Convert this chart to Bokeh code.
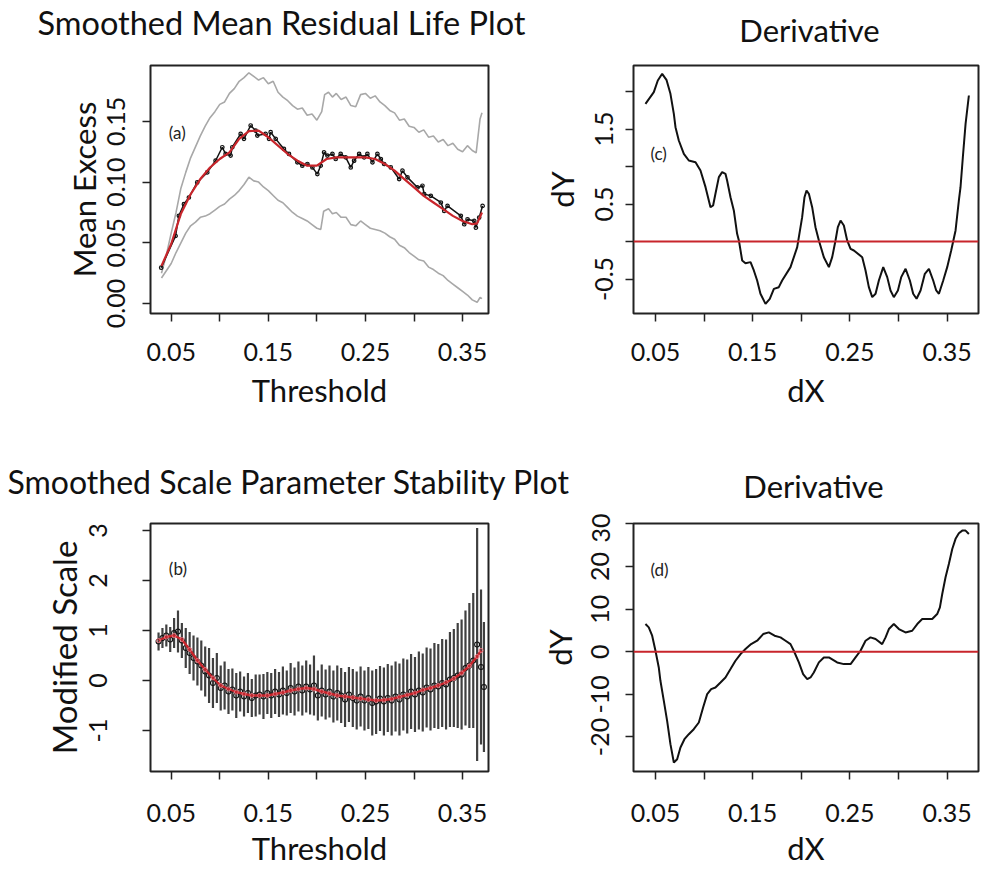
import numpy as np
from bokeh.plotting import figure
from bokeh.models import FixedTicker, PrintfTickFormatter, Label, Span, Range1d
from bokeh.layouts import column, row
from bokeh.embed import file_html
from bokeh.resources import INLINE

FONT = "Lato"
RED = "#c8252b"

# ---------------- titles ----------------
title_a = "Smoothed Mean Residual Life Plot"
title_b = "Smoothed Scale Parameter Stability Plot"
title_cd = "Derivative"

# ---------------- Panel (a): smoothed mean residual life ----------------
mrl_x = [0.0397, 0.0545, 0.0579, 0.0631, 0.0682, 0.0768, 0.0871, 0.0957, 0.1026, 0.1060,
         0.1112, 0.1129, 0.1215, 0.1249, 0.1318, 0.1369, 0.1387, 0.1472, 0.1507, 0.1524,
         0.1576, 0.1661, 0.1713, 0.1799, 0.1850, 0.1902, 0.1954, 0.2005, 0.2039, 0.2074,
         0.2108, 0.2160, 0.2194, 0.2245, 0.2297, 0.2349, 0.2383, 0.2435, 0.2486, 0.2520,
         0.2572, 0.2623, 0.2658, 0.2692, 0.2761, 0.2847, 0.2881, 0.2933, 0.3036, 0.3087,
         0.3105, 0.3173, 0.3276, 0.3311, 0.3345, 0.3482, 0.3517, 0.3551, 0.3620, 0.3637,
         0.3671, 0.3706]
mrl_y = [0.0295, 0.0557, 0.0722, 0.0818, 0.0873, 0.0997, 0.1080, 0.1176, 0.1287, 0.1232,
         0.1218, 0.1287, 0.1397, 0.1356, 0.1466, 0.1424, 0.1383, 0.1397, 0.1356, 0.1411,
         0.1356, 0.1273, 0.1232, 0.1163, 0.1135, 0.1149, 0.1121, 0.1066, 0.1135, 0.1245,
         0.1218, 0.1232, 0.1190, 0.1232, 0.1204, 0.1121, 0.1176, 0.1232, 0.1204, 0.1232,
         0.1163, 0.1232, 0.1190, 0.1149, 0.1121, 0.1025, 0.1094, 0.1039, 0.0956, 0.0970,
         0.0901, 0.0887, 0.0832, 0.0763, 0.0804, 0.0722, 0.0653, 0.0694, 0.0680, 0.0625,
         0.0708, 0.0804]

mrl_smooth_x = [0.040, 0.050, 0.060, 0.070, 0.080, 0.090, 0.100, 0.110, 0.120, 0.130,
                0.140, 0.150, 0.160, 0.170, 0.180, 0.190, 0.200, 0.210, 0.220, 0.230,
                0.240, 0.250, 0.260, 0.270, 0.280, 0.290, 0.300, 0.310, 0.320, 0.330,
                0.340, 0.350, 0.360, 0.365, 0.370]
mrl_smooth_y = [0.031, 0.049, 0.074, 0.090, 0.1025, 0.112, 0.119, 0.1245, 0.1355, 0.142,
                0.1424, 0.1369, 0.130, 0.1231, 0.1176, 0.1135, 0.1135, 0.119, 0.1204, 0.1204,
                0.1204, 0.1204, 0.119, 0.1149, 0.1094, 0.1025, 0.0956, 0.0887, 0.0832, 0.0777,
                0.0722, 0.068, 0.0653, 0.066, 0.075]

ci_up_x = [0.040, 0.045, 0.050, 0.055, 0.060, 0.065, 0.070, 0.075, 0.080, 0.085,
           0.090, 0.095, 0.100, 0.105, 0.110, 0.115, 0.120, 0.125, 0.130, 0.135,
           0.140, 0.145, 0.150, 0.155, 0.160, 0.165, 0.170, 0.175, 0.180, 0.185,
           0.190, 0.195, 0.200, 0.205, 0.208, 0.212, 0.216, 0.220, 0.225, 0.230,
           0.235, 0.240, 0.245, 0.250, 0.255, 0.260, 0.265, 0.270, 0.275, 0.280,
           0.285, 0.290, 0.295, 0.300, 0.305, 0.310, 0.315, 0.320, 0.325, 0.330,
           0.335, 0.340, 0.345, 0.350, 0.355, 0.360, 0.364, 0.366, 0.368, 0.370]
ci_up_y = [0.025, 0.040, 0.058, 0.075, 0.095, 0.108, 0.120, 0.129, 0.138, 0.146,
           0.153, 0.158, 0.164, 0.166, 0.173, 0.177, 0.183, 0.186, 0.190, 0.187,
           0.184, 0.186, 0.181, 0.183, 0.174, 0.170, 0.167, 0.163, 0.160, 0.161,
           0.155, 0.156, 0.151, 0.158, 0.172, 0.174, 0.170, 0.173, 0.168, 0.170,
           0.163, 0.162, 0.172, 0.173, 0.169, 0.171, 0.166, 0.163, 0.159, 0.157,
           0.151, 0.152, 0.146, 0.145, 0.141, 0.143, 0.137, 0.138, 0.133, 0.135,
           0.130, 0.132, 0.127, 0.125, 0.130, 0.126, 0.124, 0.138, 0.152, 0.157]

ci_lo_x = [0.040, 0.045, 0.050, 0.055, 0.060, 0.065, 0.070, 0.075, 0.080, 0.085,
           0.090, 0.095, 0.100, 0.105, 0.110, 0.115, 0.120, 0.125, 0.130, 0.135,
           0.140, 0.145, 0.150, 0.155, 0.160, 0.165, 0.170, 0.175, 0.180, 0.185,
           0.190, 0.195, 0.200, 0.204, 0.207, 0.212, 0.216, 0.220, 0.225, 0.230,
           0.235, 0.240, 0.245, 0.250, 0.255, 0.260, 0.265, 0.270, 0.275, 0.280,
           0.285, 0.290, 0.295, 0.300, 0.305, 0.310, 0.315, 0.320, 0.325, 0.330,
           0.335, 0.340, 0.345, 0.350, 0.355, 0.360, 0.365, 0.368, 0.370]
ci_lo_y = [0.021, 0.027, 0.033, 0.042, 0.050, 0.058, 0.064, 0.067, 0.071, 0.072,
           0.074, 0.077, 0.080, 0.082, 0.086, 0.089, 0.093, 0.098, 0.104, 0.101,
           0.100, 0.096, 0.093, 0.089, 0.085, 0.083, 0.079, 0.075, 0.072, 0.070,
           0.068, 0.065, 0.062, 0.061, 0.076, 0.078, 0.074, 0.075, 0.071, 0.071,
           0.065, 0.064, 0.068, 0.065, 0.062, 0.061, 0.060, 0.058, 0.055, 0.053,
           0.048, 0.046, 0.042, 0.039, 0.036, 0.035, 0.030, 0.028, 0.025, 0.023,
           0.019, 0.016, 0.013, 0.010, 0.007, 0.003, 0.001, 0.005, 0.004]

# ---------------- Panel (b): modified scale stability ----------------
scale_x = [0.037, 0.041, 0.045, 0.049, 0.053, 0.057, 0.061, 0.065, 0.069, 0.073,
           0.077, 0.081, 0.085, 0.089, 0.093, 0.097, 0.101, 0.105, 0.109, 0.113,
           0.117, 0.121, 0.125, 0.129, 0.133, 0.137, 0.141, 0.145, 0.149, 0.153,
           0.157, 0.161, 0.165, 0.169, 0.173, 0.177, 0.181, 0.185, 0.189, 0.193,
           0.197, 0.201, 0.205, 0.209, 0.213, 0.217, 0.221, 0.225, 0.229, 0.233,
           0.237, 0.241, 0.245, 0.249, 0.253, 0.257, 0.261, 0.265, 0.269, 0.273,
           0.277, 0.281, 0.285, 0.289, 0.293, 0.297, 0.301, 0.305, 0.309, 0.313,
           0.317, 0.321, 0.325, 0.329, 0.333, 0.337, 0.341, 0.345, 0.349, 0.353,
           0.357, 0.361, 0.365, 0.369, 0.372]
scale_est = [0.78, 0.85, 0.90, 0.82, 0.95, 0.98, 0.80, 0.65, 0.55, 0.45,
             0.38, 0.30, 0.18, 0.10, -0.05, 0.05, -0.15, -0.10, -0.22, -0.18,
             -0.30, -0.22, -0.32, -0.25, -0.35, -0.30, -0.28, -0.32, -0.25, -0.30,
             -0.22, -0.28, -0.20, -0.25, -0.15, -0.22, -0.12, -0.20, -0.12, -0.18,
             -0.10, -0.30, -0.20, -0.28, -0.22, -0.32, -0.25, -0.30, -0.38, -0.28,
             -0.35, -0.40, -0.32, -0.40, -0.35, -0.45, -0.42, -0.36, -0.42, -0.35,
             -0.40, -0.32, -0.38, -0.28, -0.32, -0.22, -0.28, -0.20, -0.24, -0.14,
             -0.18, -0.10, -0.12, -0.05, -0.08, 0.02, 0.05, 0.10, 0.12, 0.25,
             0.30, 0.40, 0.72, 0.27, -0.13]
scale_half = [0.18, 0.20, 0.22, 0.25, 0.30, 0.42, 0.35, 0.40, 0.42, 0.45,
              0.48, 0.50, 0.50, 0.55, 0.50, 0.50, 0.45, 0.48, 0.45, 0.42,
              0.45, 0.40, 0.40, 0.40, 0.38, 0.42, 0.40, 0.45, 0.42, 0.45,
              0.45, 0.45, 0.48, 0.45, 0.50, 0.48, 0.50, 0.50, 0.52, 0.50,
              0.60, 0.50, 0.52, 0.50, 0.52, 0.52, 0.55, 0.55, 0.55, 0.55,
              0.58, 0.58, 0.60, 0.60, 0.62, 0.65, 0.65, 0.65, 0.68, 0.68,
              0.70, 0.70, 0.72, 0.72, 0.74, 0.75, 0.75, 0.78, 0.78, 0.80,
              0.82, 0.85, 0.85, 0.88, 0.90, 0.95, 0.98, 1.05, 1.10, 1.15,
              1.25, 1.35, 2.33, 1.55, 1.30]

scale_smooth_x = [0.037, 0.045, 0.053, 0.061, 0.069, 0.077, 0.085, 0.093, 0.101, 0.109,
                  0.117, 0.125, 0.133, 0.141, 0.149, 0.157, 0.165, 0.173, 0.181, 0.189,
                  0.197, 0.205, 0.213, 0.221, 0.229, 0.237, 0.245, 0.253, 0.261, 0.269,
                  0.277, 0.285, 0.293, 0.301, 0.309, 0.317, 0.325, 0.333, 0.341, 0.349,
                  0.357, 0.365, 0.369]
scale_smooth_y = [0.80, 0.87, 0.90, 0.82, 0.62, 0.40, 0.22, 0.05, -0.10, -0.17,
                  -0.23, -0.27, -0.30, -0.30, -0.30, -0.27, -0.24, -0.20, -0.17, -0.15,
                  -0.17, -0.22, -0.26, -0.30, -0.32, -0.34, -0.36, -0.38, -0.40, -0.39,
                  -0.37, -0.33, -0.29, -0.25, -0.19, -0.15, -0.10, -0.04, 0.04, 0.15,
                  0.29, 0.48, 0.60]

# ---------------- Panel (c): derivative of mean excess ----------------
dmrl_x = [0.0397, 0.0483, 0.0524, 0.0569, 0.0613, 0.0654, 0.0689, 0.0706, 0.0740, 0.0792,
          0.0843, 0.0912, 0.0963, 0.1015, 0.1066, 0.1093, 0.1117, 0.1152, 0.1186, 0.1220,
          0.1237, 0.1272, 0.1306, 0.1340, 0.1358, 0.1392, 0.1426, 0.1478, 0.1512, 0.1546,
          0.1580, 0.1632, 0.1676, 0.1718, 0.1769, 0.1803, 0.1889, 0.1958, 0.2009, 0.2033,
          0.2054, 0.2078, 0.2112, 0.2146, 0.2181, 0.2232, 0.2284, 0.2318, 0.2352, 0.2376,
          0.2404, 0.2438, 0.2472, 0.2507, 0.2541, 0.2627, 0.2661, 0.2695, 0.2730, 0.2764,
          0.2798, 0.2843, 0.2884, 0.2918, 0.2952, 0.2994, 0.3028, 0.3073, 0.3117, 0.3151,
          0.3186, 0.3227, 0.3271, 0.3313, 0.3357, 0.3388, 0.3416, 0.3460, 0.3501, 0.3542,
          0.3587, 0.3621, 0.3638, 0.3662, 0.3690, 0.3724]
dmrl_y = [1.836, 1.991, 2.147, 2.236, 2.156, 1.969, 1.702, 1.524, 1.347, 1.169,
          1.080, 1.058, 0.947, 0.725, 0.458, 0.480, 0.636, 0.858, 0.925, 0.902,
          0.813, 0.591, 0.414, 0.102, 0.014, -0.253, -0.289, -0.275, -0.386, -0.520,
          -0.697, -0.831, -0.764, -0.631, -0.609, -0.520, -0.342, -0.075, 0.325, 0.591,
          0.680, 0.636, 0.458, 0.191, 0.014, -0.209, -0.342, -0.209, 0.014, 0.191,
          0.280, 0.213, 0.014, -0.098, -0.120, -0.209, -0.386, -0.609, -0.742, -0.697,
          -0.520, -0.342, -0.475, -0.653, -0.742, -0.653, -0.475, -0.364, -0.520, -0.697,
          -0.764, -0.653, -0.431, -0.364, -0.520, -0.653, -0.697, -0.520, -0.342, -0.120,
          0.147, 0.547, 0.724, 1.124, 1.569, 1.947]

# ---------------- Panel (d): derivative of modified scale ----------------
dscale_x = [0.0397, 0.0431, 0.0466, 0.0500, 0.0534, 0.0551, 0.0586, 0.0620, 0.0654, 0.0689,
            0.0723, 0.0757, 0.0798, 0.0843, 0.0894, 0.0946, 0.0990, 0.1032, 0.1073, 0.1117,
            0.1169, 0.1220, 0.1272, 0.1323, 0.1375, 0.1426, 0.1484, 0.1546, 0.1608, 0.1666,
            0.1725, 0.1786, 0.1838, 0.1889, 0.1923, 0.1975, 0.2019, 0.2061, 0.2095, 0.2129,
            0.2181, 0.2232, 0.2284, 0.2369, 0.2438, 0.2507, 0.2558, 0.2609, 0.2661, 0.2712,
            0.2764, 0.2832, 0.2867, 0.2901, 0.2952, 0.3004, 0.3072, 0.3141, 0.3193, 0.3244,
            0.3296, 0.3347, 0.3398, 0.3426, 0.3450, 0.3484, 0.3518, 0.3553, 0.3587, 0.3621,
            0.3656, 0.3690, 0.3724]
dscale_y = [6.50, 5.72, 3.76, 0.24, -3.68, -6.81, -11.51, -16.21, -21.69, -26.0,
            -25.22, -22.48, -20.52, -19.34, -18.17, -16.60, -13.08, -9.94, -8.77, -8.38,
            -7.20, -6.03, -4.07, -2.11, -0.55, 0.63, 1.80, 2.59, 4.15, 4.54,
            3.76, 3.37, 2.59, 1.80, 0.24, -2.50, -5.25, -6.42, -6.03, -4.85,
            -2.50, -1.33, -1.33, -2.50, -2.90, -2.90, -1.33, 0.24, 2.59, 3.37,
            2.98, 1.80, 3.37, 5.33, 6.50, 5.33, 4.54, 4.93, 6.50, 7.68,
            7.68, 7.68, 8.85, 10.42, 13.55, 17.47, 20.60, 24.13, 26.50, 27.81,
            28.43, 28.43, 27.65]

# tick definitions
thr_major = [0.05, 0.15, 0.25, 0.35]
thr_minor = [0.10, 0.20, 0.30]


def style_fig(p, xlabel, ylabel, ylab_fmt, yt_major, yt_minor, xlab_standoff, xaxis_lab_standoff,
              ylabel_standoff_ticks, ylabel_standoff_label, ylab_size="31px"):
    p.xgrid.visible = False
    p.ygrid.visible = False
    p.outline_line_color = "#222222"
    p.outline_line_width = 2
    p.background_fill_color = "white"
    p.border_fill_color = "white"

    for ax in (p.xaxis[0], p.yaxis[0]):
        ax.axis_line_color = None
        ax.major_tick_in = 0
        ax.major_tick_out = 8
        ax.minor_tick_in = 0
        ax.minor_tick_out = 8
        ax.major_tick_line_width = 1.5
        ax.minor_tick_line_width = 1.5
        ax.major_tick_line_color = "#222222"
        ax.minor_tick_line_color = "#222222"
        ax.major_label_text_font = FONT
        ax.major_label_text_font_size = "25px"
        ax.major_label_text_color = "#111111"
        ax.axis_label_text_font = FONT
        ax.axis_label_text_font_style = "normal"
        ax.axis_label_text_color = "#111111"

    xa = p.xaxis[0]
    xa.ticker = FixedTicker(ticks=thr_major, minor_ticks=thr_minor)
    xa.formatter = PrintfTickFormatter(format="%.2f")
    xa.major_label_standoff = xlab_standoff
    xa.axis_label = xlabel
    xa.axis_label_text_font_size = "31px"
    xa.axis_label_standoff = xaxis_lab_standoff

    ya = p.yaxis[0]
    ya.ticker = FixedTicker(ticks=yt_major, minor_ticks=yt_minor)
    ya.formatter = PrintfTickFormatter(format=ylab_fmt)
    ya.major_label_orientation = "vertical"
    ya.major_label_standoff = ylabel_standoff_ticks
    ya.axis_label = ylabel
    ya.axis_label_text_font_size = ylab_size
    ya.axis_label_standoff = ylabel_standoff_label


def panel_label(p, x, y, txt):
    p.add_layout(Label(x=x, y=y, text=txt, text_font=FONT, text_font_size="17px",
                       text_color="#222222", text_baseline="alphabetic"))


def title_strip(height, items):
    s = figure(frame_width=981, frame_height=height, x_range=Range1d(0, 981),
               y_range=Range1d(0, height), output_backend="svg", toolbar_location=None,
               x_axis_type=None, y_axis_type=None, title=None,
               min_border_left=0, min_border_right=0, min_border_top=0, min_border_bottom=0)
    s.outline_line_color = None
    s.grid.visible = False
    for (x, y, txt, size, align) in items:
        s.add_layout(Label(x=x, y=y, text=txt, text_font=FONT, text_font_size=size,
                           text_color="#111111", text_baseline="alphabetic", text_align=align))
    return s


FRAME_H = 248

strip1 = title_strip(58, [(37, 36, title_a, "32.5px", "left"),
                          (809, 29, title_cd, "31px", "center")])
strip2 = title_strip(100, [(7, 32, title_b, "32px", "left"),
                           (813, 28, title_cd, "31px", "center")])

# (a)
pa = figure(frame_width=338, frame_height=FRAME_H, x_range=Range1d(0.0287, 0.3767),
            y_range=Range1d(-0.0082, 0.1960), output_backend="svg", toolbar_location=None,
            title=None, min_border_left=150, min_border_right=10, min_border_top=7,
            min_border_bottom=100)
style_fig(pa, "Threshold", "Mean Excess", "%.2f", [0.0, 0.05, 0.10, 0.15], [], 21, 7, 17, 2)
pa.line(ci_up_x, ci_up_y, line_color="#a8a8a8", line_width=1.6)
pa.line(ci_lo_x, ci_lo_y, line_color="#a8a8a8", line_width=1.6)
pa.line(mrl_x, mrl_y, line_color="#111111", line_width=1.5)
pa.scatter(mrl_x, mrl_y, marker="circle", size=3.5, fill_color=None, line_color="#111111",
           line_width=1.2)
pa.line(mrl_smooth_x, mrl_smooth_y, line_color=RED, line_width=2.2)
panel_label(pa, 0.0476, 0.1405, "(a)")

# (c)
pc = figure(frame_width=345, frame_height=FRAME_H, x_range=Range1d(0.0274, 0.3823),
            y_range=Range1d(-0.96, 2.347), output_backend="svg", toolbar_location=None,
            title=None, min_border_left=135, min_border_right=3, min_border_top=7,
            min_border_bottom=100)
style_fig(pc, "dX", "dY", "%.1f", [1.5, 0.5, -0.5], [2.0, 1.0, 0.0], 21, 7, 12, 12)
pc.add_layout(Span(location=0, dimension="width", line_color=RED, line_width=2))
pc.line(dmrl_x, dmrl_y, line_color="#111111", line_width=2)
panel_label(pc, 0.0449, 1.17, "(c)")

# (b)
pb = figure(frame_width=338, frame_height=FRAME_H, x_range=Range1d(0.0287, 0.3767),
            y_range=Range1d(-1.82, 3.14), output_backend="svg", toolbar_location=None,
            title=None, min_border_left=150, min_border_right=10, min_border_top=10,
            min_border_bottom=90)
style_fig(pb, "Threshold", "Modified Scale", "%d", [3, 2, 1, 0, -1], [], 24, 4, 36, 2,
          ylab_size="33px")
lo = [e - h for e, h in zip(scale_est, scale_half)]
hi = [e + h for e, h in zip(scale_est, scale_half)]
pb.segment(x0=scale_x, y0=lo, x1=scale_x, y1=hi, line_color="#404040", line_width=2.2)
pb.scatter(scale_x, scale_est, marker="circle", size=5, fill_color=None,
           line_color="#111111", line_width=1.1)
pb.line(scale_smooth_x, scale_smooth_y, line_color=RED, line_width=2.4)
pb.scatter(scale_smooth_x, scale_smooth_y, marker="circle", size=4, fill_color=None,
           line_color="#e8707a", line_width=1)
panel_label(pb, 0.0476, 2.24, "(b)")

# (d)
pd_ = figure(frame_width=345, frame_height=FRAME_H, x_range=Range1d(0.0274, 0.3823),
             y_range=Range1d(-28.1, 30.1), output_backend="svg", toolbar_location=None,
             title=None, min_border_left=135, min_border_right=3, min_border_top=10,
             min_border_bottom=90)
style_fig(pd_, "dX", "dY", "%d", [30, 20, 10, 0, -10, -20], [], 24, 4, 16, 10)
pd_.add_layout(Span(location=0, dimension="width", line_color=RED, line_width=2))
pd_.line(dscale_x, dscale_y, line_color="#111111", line_width=2)
panel_label(pd_, 0.0449, 19.4, "(d)")

layout = column(strip1, row(pa, pc), strip2, row(pb, pd_))
open("out.html", "w").write(file_html(layout, INLINE))
